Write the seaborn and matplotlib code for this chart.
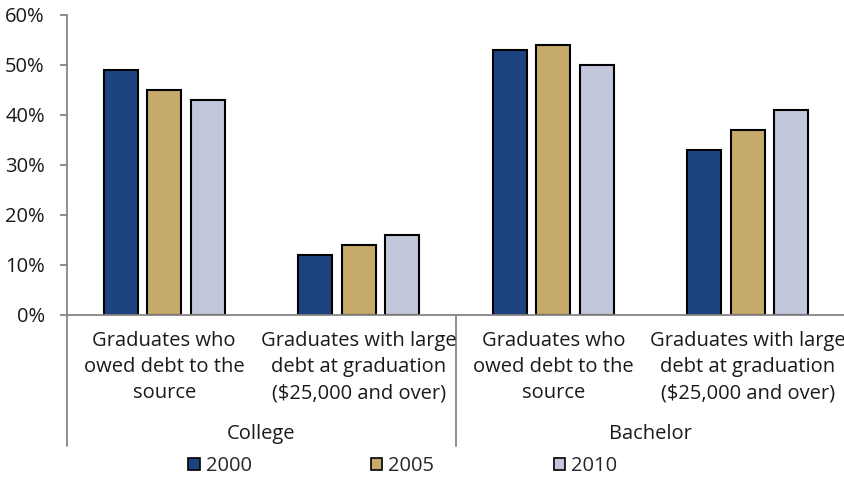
import matplotlib
matplotlib.use("Agg")
import matplotlib.pyplot as plt
import matplotlib.patches as mpatches
import seaborn as sns
import pandas as pd

# Debt indicators by level of study
levels = ["College", "College", "Bachelor", "Bachelor"]
measures = [
    "Graduates who\nowed debt to the\nsource",
    "Graduates with large\ndebt at graduation\n($25,000 and over)",
    "Graduates who\nowed debt to the\nsource ",
    "Graduates with large\ndebt at graduation\n($25,000 and over) ",
]
years = ["2000", "2005", "2010"]
values_2000 = [49, 12, 53, 33]
values_2005 = [45, 14, 54, 37]
values_2010 = [43, 16, 50, 41]
yticks = [0, 10, 20, 30, 40, 50, 60]

colors = ["#1D4381", "#C5AA6C", "#C2C7DC"]

rows = []
for yr, vals in zip(years, [values_2000, values_2005, values_2010]):
    for m, v in zip(measures, vals):
        rows.append({"measure": m, "year": yr, "value": v})
df = pd.DataFrame(rows)

sns.set_theme(style="white")
plt.rcParams["font.family"] = ["Open Sans", "DejaVu Sans"]
FS = 14.5
GRAY = "#868686"
TXT = "#1a1a1a"

fig = plt.figure(figsize=(8.44, 4.8), dpi=100)
ax = fig.add_axes([67 / 844, 1 - 315 / 480, (845 - 67) / 844, 300 / 480])

sns.barplot(data=df, x="measure", y="value", hue="year", order=measures,
            hue_order=years, palette=colors, width=0.672, gap=0.22,
            edgecolor="black", linewidth=1.5, ax=ax, legend=False,
            errorbar=None, saturation=1)

ax.set_ylim(0, 60)
ax.set_xlim(-0.5, 3.5)
ax.set_yticks(yticks)
ax.set_yticklabels([f"{t}%" for t in yticks], fontsize=FS, color=TXT)
ax.set_xticks([])
ax.set_xlabel("")
ax.set_ylabel("")
for s in ["top", "right"]:
    ax.spines[s].set_visible(False)
for s in ["left", "bottom"]:
    ax.spines[s].set_color(GRAY)
    ax.spines[s].set_linewidth(1.3)
ax.tick_params(axis="y", which="both", direction="out", length=5,
               width=1.3, color=GRAY, left=True, pad=11)

# Category labels under each group
trans = ax.get_xaxis_transform()
for i, m in enumerate(measures):
    ax.text(i, -0.052, m.strip(), transform=trans, ha="center", va="top",
            fontsize=FS, color=TXT, linespacing=1.43)

# Level labels and separators
for center, lvl in [(0.5, "College"), (2.5, "Bachelor")]:
    ax.text(center, -0.362, lvl, transform=trans, ha="center", va="top",
            fontsize=FS, color=TXT)
for xpos in [-0.5, 1.5, 3.5]:
    ax.plot([xpos, xpos], [0, -0.435], transform=trans, color=GRAY,
            lw=1.3, clip_on=False)

handles = [mpatches.Patch(facecolor=c, edgecolor="black", linewidth=1.2,
                          label=y) for c, y in zip(colors, years)]
fig.legend(handles=handles, loc="center", bbox_to_anchor=(403 / 844, 1 - 466 / 480),
           ncol=3, frameon=False, fontsize=FS, handlelength=0.55,
           handleheight=0.55, handletextpad=0.3, columnspacing=5.95)

fig.savefig("out.png", dpi=100)
